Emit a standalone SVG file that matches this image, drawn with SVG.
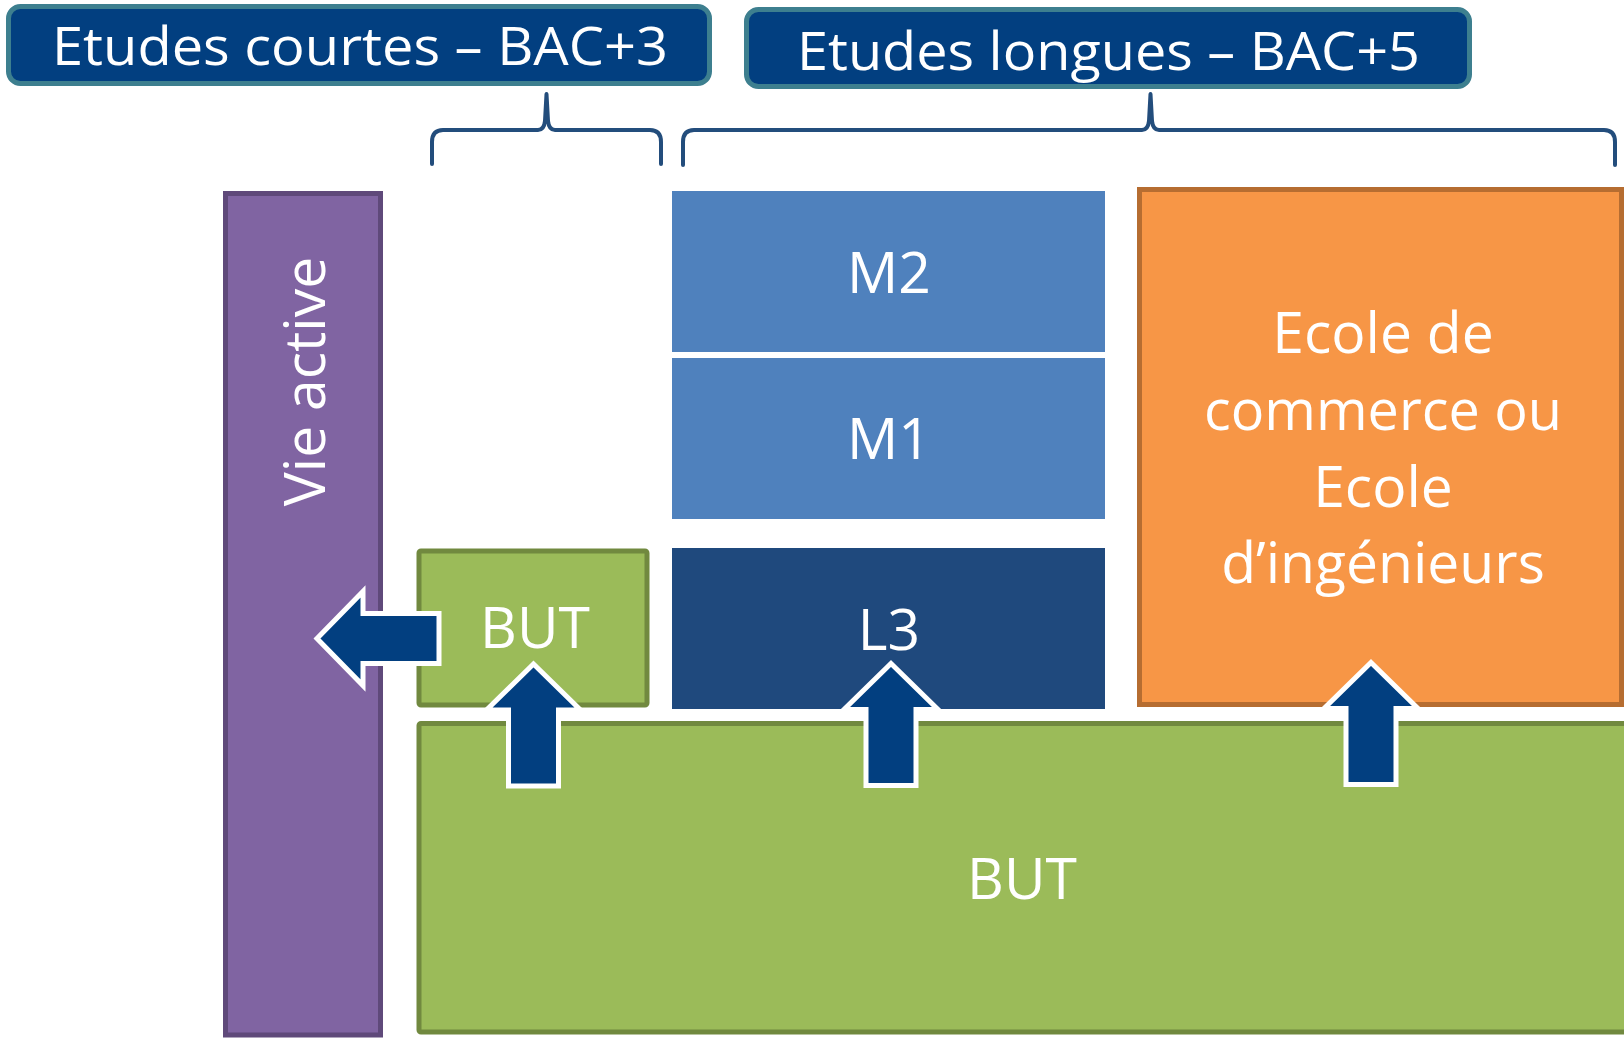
<svg xmlns="http://www.w3.org/2000/svg" xmlns:xlink="http://www.w3.org/1999/xlink" width="1624" height="1038" viewBox="0 0 1624 1038">
  <style>
    text { font-family: "Open Sans", "Noto Sans", "Liberation Sans", sans-serif; fill: #FFFFFF; }
    .head { fill: #023F80; stroke: #3D7F8F; stroke-width: 5; }
    .htxt { font-size: 53px; }
    .body { font-size: 57px; text-anchor: middle; }
    .brace { fill: none; stroke: #234D7C; stroke-width: 4; stroke-linejoin: round; stroke-linecap: round; }
    .arrow { fill: #023F80; stroke: #FFFFFF; stroke-width: 5; stroke-linejoin: miter; }
    .purple { fill: #8064A2; stroke: #5F497A; stroke-width: 5; }
    .green { fill: #9BBB59; stroke: #71893F; stroke-width: 5; }
    .orange { fill: #F79646; stroke: #B66D31; stroke-width: 5; }
    .mblue { fill: #4F81BD; }
    .dblue { fill: #1F497D; }
  </style>
  <defs>
    <polygon id="arr" points="0,0 47,46 25,46 25,122 -25,122 -25,46 -47,46"/>
  </defs>

  <g id="head-courtes">
    <rect class="head" x="8.5" y="6.5" width="701" height="77" rx="12"/>
    <text class="htxt" x="52" y="65" textLength="616" lengthAdjust="spacingAndGlyphs">Etudes courtes – BAC+3</text>
  </g>
  <g id="head-longues">
    <rect class="head" x="746.5" y="9.5" width="723" height="77" rx="12"/>
    <text class="htxt" x="797" y="70" textLength="623" lengthAdjust="spacingAndGlyphs">Etudes longues – BAC+5</text>
  </g>

  <g id="vie-active">
    <rect class="purple" x="225.5" y="193.5" width="155" height="841.5"/>
    <text class="body" transform="translate(325,381.5) rotate(-90)">Vie active</text>
  </g>

  <g id="m2">
    <rect class="mblue" x="672" y="191" width="433" height="161"/>
    <text class="body" x="889" y="293">M2</text>
  </g>
  <g id="m1">
    <rect class="mblue" x="672" y="358" width="433" height="161"/>
    <text class="body" x="889" y="459">M1</text>
  </g>
  <g id="l3">
    <rect class="dblue" x="672" y="548" width="433" height="161"/>
    <text class="body" x="889" y="650">L3</text>
  </g>

  <g id="ecole">
    <rect class="orange" x="1139.5" y="189.5" width="482" height="515"/>
    <text class="body" x="1383" y="353">Ecole de</text>
    <text class="body" x="1383" y="430" textLength="358" lengthAdjust="spacingAndGlyphs">commerce ou</text>
    <text class="body" x="1383" y="507">Ecole</text>
    <text class="body" x="1383" y="583">d’ingénieurs</text>
  </g>

  <g id="but-court">
    <rect class="green" x="419" y="551" width="228" height="154" rx="2"/>
    <text class="body" x="535" y="648">BUT</text>
  </g>

  <g id="but">
    <rect class="green" x="419" y="723.5" width="1220" height="308.5" rx="2"/>
    <text class="body" x="1022" y="899">BUT</text>
  </g>

  <g id="connectors">
    <path class="brace" d="M 432 164 L 432 142 Q 432 130 443 130 L 538 130 Q 544 130 545 121 L 546.5 94 L 548 121 Q 549 130 555 130 L 650 130 Q 661 130 661 142 L 661 164"/>
    <path class="brace" d="M 683 165 L 683 142 Q 683 130 694 130 L 1142 130 Q 1148 130 1149 121 L 1150.5 94 L 1152 121 Q 1153 130 1159 130 L 1604 130 Q 1615 130 1615 142 L 1615 165"/>
    <use xlink:href="#arr" class="arrow" transform="translate(317,638.5) rotate(-90)"/>
    <use xlink:href="#arr" class="arrow" transform="translate(533.5,664)"/>
    <use xlink:href="#arr" class="arrow" transform="translate(891,663.5)"/>
    <use xlink:href="#arr" class="arrow" transform="translate(1371,662.5)"/>
  </g>
</svg>
